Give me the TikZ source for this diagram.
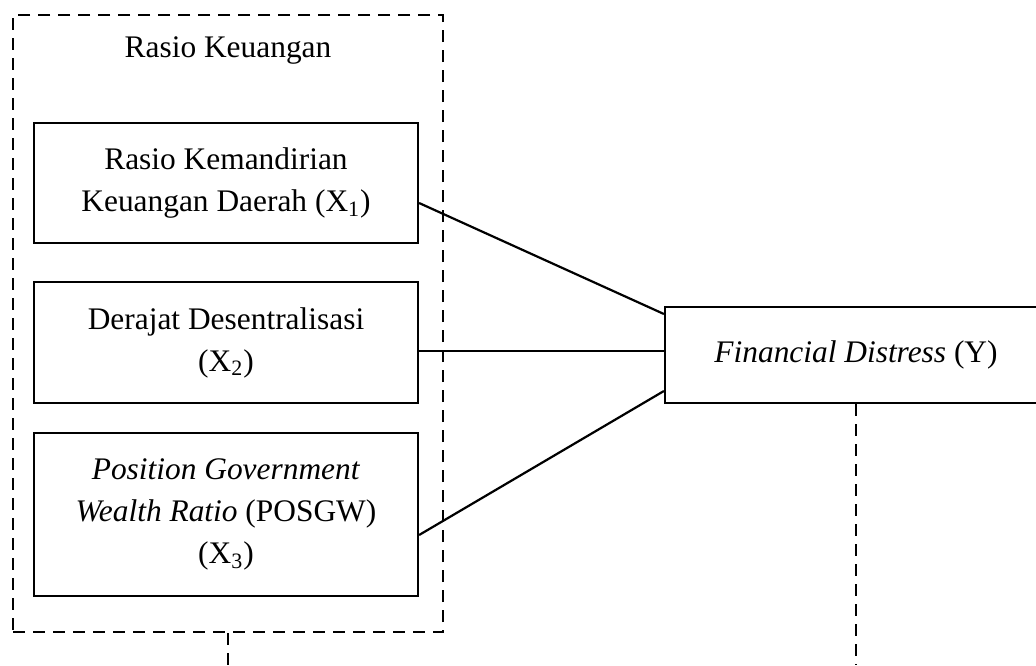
\documentclass[tikz,border=0pt]{standalone}
\usepackage{fontspec}
\setmainfont{Liberation Serif}
\usetikzlibrary{shapes, calc}

\begin{document}
\begin{tikzpicture}[x=0.5pt, y=-0.5pt,
    varbox/.style={draw, line width=1.1pt, rectangle, align=center, inner sep=0pt,
                   font=\fontsize{15.7}{21}\selectfont},
    dashline/.style={line width=1.4pt, dash pattern=on 6pt off 4pt},
    link/.style={line width=1.1pt}]

                      \useasboundingbox (0,0) rectangle (1036,665);

                      \node[dashline, draw, rectangle, minimum width=215pt, minimum height=308.5pt, inner sep=0pt] (rasio) at (228,323.5) {};
                      \node[anchor=base, font=\fontsize{15.7}{21}\selectfont] (judul) at (228,57) {Rasio Keuangan};

                      \node[varbox, minimum width=192pt, minimum height=60pt] (x1) at (226,183) {Rasio Kemandirian\\Keuangan Daerah (X\textsubscript{1})};
                      \node[varbox, minimum width=192pt, minimum height=60.5pt] (x2) at (226,342.5) {Derajat Desentralisasi\\(X\textsubscript{2})};
                      \node[varbox, minimum width=192pt, minimum height=81.5pt] (x3) at (226,514.5) {\textit{Position Government}\\\textit{Wealth Ratio} (POSGW)\\(X\textsubscript{3})};
                      \node[varbox, minimum width=191pt, minimum height=48pt] (y) at (856,355) {\textit{Financial Distress} (Y)};

                      \draw[link] ([yshift=-10pt]x1.east) -- ([yshift=20.5pt]y.west);
                      \draw[link] ([yshift=-4.25pt]x2.east) -- ([yshift=2pt]y.west);
                      \draw[link] ([yshift=-10.25pt]x3.east) -- ([yshift=-18pt]y.west);

                      % garis putus-putus ke bawah
                      \coordinate (ujungA) at (rasio.south |- 0,665);
                      \coordinate (ujungB) at (y.south |- 0,665);
                      \draw[dashline] (rasio.south) -- (ujungA);
                      \draw[dashline] (y.south) -- (ujungB);

                    \end{tikzpicture}
\end{document}
